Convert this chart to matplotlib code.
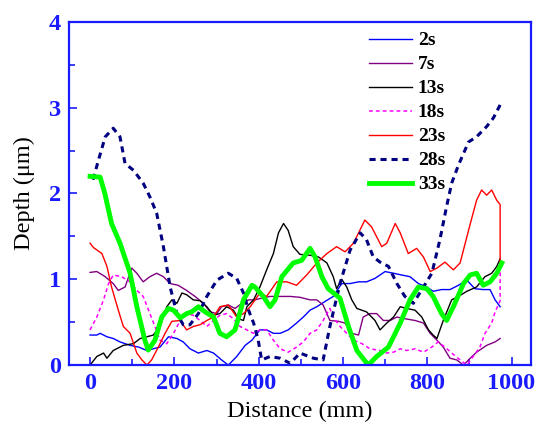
import matplotlib
matplotlib.use('Agg')
import matplotlib.pyplot as plt

# depth profiles (um) along the track (mm) for each exposure time
x_2s = [0, 16, 24, 40, 55, 71, 95, 115, 135, 150, 166, 186, 206, 221, 237, 257, 277, 293, 312, 328,
        348, 368, 384, 403, 419, 435, 451, 470, 490, 506, 522, 538, 557, 577, 597, 617, 637, 656, 676,
        700, 720, 739, 759, 779, 799, 814, 834, 854, 874, 894, 913, 933, 949, 961, 973]
y_2s = [0.35, 0.35, 0.37, 0.33, 0.31, 0.27, 0.23, 0.21, 0.17, 0.19, 0.21, 0.33, 0.31, 0.27, 0.19, 0.14,
        0.17, 0.14, 0.06, 0.0, 0.10, 0.23, 0.29, 0.41, 0.41, 0.37, 0.37, 0.41, 0.49, 0.56, 0.64, 0.68,
        0.74, 0.80, 0.95, 0.95, 0.97, 0.97, 1.01, 1.09, 1.07, 1.05, 1.03, 0.95, 0.91, 0.86, 0.88, 0.88,
        0.93, 0.99, 0.89, 0.88, 0.88, 0.76, 0.68]

x_7s = [0, 16, 36, 55, 67, 83, 99, 111, 126, 142, 158, 174, 190, 209, 229, 249, 269, 285, 301, 312,
        328, 344, 360, 376, 391, 407, 427, 451, 475, 498, 522, 538, 553, 569, 589, 605, 621, 637, 648,
        664, 680, 696, 712, 728, 747, 771, 791, 807, 823, 838, 854, 870, 886, 902, 917, 941, 961, 973]
y_7s = [1.08, 1.09, 1.03, 0.95, 0.87, 0.91, 1.13, 1.07, 0.97, 1.03, 1.07, 1.03, 0.95, 0.93, 0.87, 0.80,
        0.72, 0.62, 0.60, 0.68, 0.70, 0.66, 0.72, 0.76, 0.76, 0.78, 0.80, 0.80, 0.80, 0.79, 0.76, 0.76,
        0.70, 0.52, 0.51, 0.49, 0.37, 0.35, 0.56, 0.60, 0.60, 0.52, 0.52, 0.56, 0.54, 0.52, 0.49, 0.37,
        0.29, 0.21, 0.08, 0.06, 0.0, 0.08, 0.15, 0.23, 0.27, 0.31]

x_13s = [0, 16, 32, 40, 55, 79, 103, 119, 135, 150, 166, 182, 194, 206, 218, 229, 245, 261, 277, 293,
         308, 324, 340, 352, 364, 372, 388, 403, 419, 435, 447, 459, 470, 482, 498, 522, 542, 562, 577,
         585, 597, 609, 621, 633, 656, 676, 688, 704, 720, 736, 751, 771, 787, 803, 814, 823, 838, 858,
         874, 894, 917, 937, 953, 965, 973]
y_13s = [0.0, 0.10, 0.14, 0.08, 0.17, 0.23, 0.25, 0.31, 0.33, 0.35, 0.45, 0.68, 0.76, 0.72, 0.84, 0.82,
         0.76, 0.75, 0.68, 0.58, 0.60, 0.68, 0.64, 0.54, 0.52, 0.68, 0.76, 0.91, 1.11, 1.30, 1.54, 1.65,
         1.57, 1.38, 1.29, 1.28, 1.26, 1.19, 1.03, 0.89, 1.0, 0.91, 0.76, 0.66, 0.62, 0.52, 0.41, 0.49,
         0.56, 0.68, 0.66, 0.64, 0.56, 0.41, 0.35, 0.31, 0.52, 0.76, 0.80, 0.86, 0.91, 1.03, 1.07, 1.15,
         1.24]

x_18s = [0, 16, 32, 44, 55, 75, 95, 111, 126, 142, 154, 166, 182, 198, 214, 229, 245, 261, 277, 293,
         308, 324, 340, 356, 372, 388, 403, 419, 435, 451, 470, 490, 506, 522, 538, 553, 569, 577, 593,
         609, 625, 645, 664, 688, 704, 720, 736, 751, 771, 791, 811, 826, 842, 858, 878, 894, 909, 925,
         937, 953, 961, 973, 973]
y_18s = [0.41, 0.56, 0.76, 0.95, 1.05, 1.03, 0.97, 0.87, 0.80, 0.60, 0.45, 0.29, 0.25, 0.37, 0.52, 0.60,
         0.58, 0.52, 0.45, 0.52, 0.58, 0.60, 0.54, 0.45, 0.41, 0.37, 0.41, 0.41, 0.29, 0.19, 0.15, 0.21,
         0.27, 0.37, 0.41, 0.52, 0.66, 0.56, 0.45, 0.37, 0.29, 0.25, 0.19, 0.17, 0.14, 0.15, 0.19, 0.17,
         0.19, 0.15, 0.21, 0.27, 0.21, 0.14, 0.06, 0.0, 0.10, 0.21, 0.37, 0.49, 0.62, 0.75, 1.11]

x_23s = [0, 8, 28, 40, 51, 67, 79, 95, 111, 123, 135, 146, 162, 178, 194, 214, 229, 245, 261, 277,
         293, 308, 328, 348, 364, 380, 403, 419, 443, 467, 490, 514, 538, 562, 585, 605, 625, 652, 668,
         692, 704, 724, 736, 755, 775, 791, 807, 823, 842, 862, 878, 898, 917, 929, 941, 953, 965, 973,
         973]
y_23s = [1.42, 1.37, 1.30, 1.15, 0.91, 0.64, 0.45, 0.37, 0.14, 0.06, 0.0, 0.06, 0.21, 0.37, 0.51, 0.52,
         0.41, 0.45, 0.47, 0.52, 0.56, 0.68, 0.70, 0.56, 0.60, 0.68, 0.84, 0.80, 0.97, 0.97, 0.93, 1.05,
         1.19, 1.30, 1.38, 1.32, 1.42, 1.69, 1.61, 1.38, 1.42, 1.65, 1.54, 1.30, 1.36, 1.26, 1.09, 1.13,
         1.20, 1.11, 1.19, 1.57, 1.92, 2.04, 1.98, 2.04, 1.92, 1.87, 1.13]

x_28s = [7, 20, 36, 55, 71, 83, 103, 126, 142, 158, 174, 190, 206, 221, 237, 257, 277, 301, 328, 348,
         364, 376, 388, 399, 407, 427, 451, 475, 498, 530, 553, 569, 593, 617, 641, 656, 672, 688, 708,
         728, 747, 767, 791, 811, 830, 846, 858, 874, 898, 917, 941, 957, 977]
y_28s = [2.16, 2.39, 2.66, 2.76, 2.66, 2.35, 2.27, 2.12, 1.96, 1.77, 1.38, 0.91, 0.60, 0.47, 0.47, 0.60,
         0.80, 0.99, 1.07, 1.01, 0.84, 0.64, 0.49, 0.29, 0.06, 0.10, 0.08, 0.02, 0.14, 0.08, 0.06, 0.45,
         0.95, 1.34, 1.54, 1.46, 1.26, 1.20, 1.15, 0.95, 0.80, 0.72, 0.91, 1.07, 1.46, 1.85, 2.12, 2.33,
         2.60, 2.66, 2.78, 2.88, 3.07]

x_33s = [0, 24, 35, 51, 71, 95, 111, 130, 138, 154, 170, 186, 198, 214, 229, 241, 257, 273, 293, 308,
         324, 344, 364, 384, 391, 411, 427, 439, 455, 482, 502, 522, 534, 550, 565, 593, 613, 633, 660,
         680, 708, 736, 759, 779, 799, 814, 834, 846, 862, 886, 902, 917, 933, 949, 965, 977]
y_33s = [2.20, 2.19, 2.0, 1.65, 1.42, 1.07, 0.68, 0.29, 0.175, 0.29, 0.56, 0.66, 0.64, 0.55, 0.60, 0.62,
         0.68, 0.62, 0.56, 0.37, 0.33, 0.41, 0.76, 0.93, 0.91, 0.80, 0.68, 0.76, 1.03, 1.19, 1.22, 1.36,
         1.26, 1.03, 0.89, 0.78, 0.45, 0.17, 0.0, 0.10, 0.21, 0.49, 0.76, 0.91, 0.89, 0.80, 0.60, 0.52,
         0.68, 0.95, 1.05, 1.07, 0.93, 0.97, 1.07, 1.19]

blue = '#1a1aff'
serif = ['Liberation Serif', 'DejaVu Serif']

fig = plt.figure(figsize=(5.39, 4.28), dpi=100)
ax = fig.add_axes([0.128, 0.147, 0.857, 0.802])

ax.plot(x_2s, y_2s, color='#0000ff', lw=1.0, label='2s')
ax.plot(x_7s, y_7s, color='#800080', lw=1.0, label='7s')
ax.plot(x_13s, y_13s, color='black', lw=1.0, label='13s')
ax.plot(x_18s, y_18s, color='#ff00ff', lw=1.1, ls=(0, (2.5, 2)), label='18s')
ax.plot(x_23s, y_23s, color='#ff0000', lw=1.0, label='23s')
ax.plot(x_28s, y_28s, color='#000080', lw=2.2, ls=(0, (2, 1.6)), label='28s')
ax.plot(x_33s, y_33s, color='#00ff00', lw=3.5, label='33s')

ax.set_xlim(-50, 1046)
ax.set_ylim(0, 4)
ax.set_xticks([0, 200, 400, 600, 800, 1000])
ax.set_xticks(range(100, 1000, 200), minor=True)
ax.set_yticks([0, 1, 2, 3, 4])
ax.set_yticks([0.5, 1.5, 2.5, 3.5], minor=True)

for s in ax.spines.values():
    s.set_color(blue)
    s.set_linewidth(1.6)
ax.tick_params(which='both', direction='in', color=blue, width=1.2, top=False, right=False)
ax.tick_params(which='major', length=6, pad=6)
ax.tick_params(which='minor', length=4)
for lab in ax.get_xticklabels() + ax.get_yticklabels():
    lab.set_family(serif)
    lab.set_fontweight('bold')
    lab.set_fontsize(17.5)
    lab.set_color(blue)

ax.set_xlabel('Distance (mm)', family=serif, fontsize=17.5, labelpad=5)
ax.set_ylabel('Depth (\u03bcm)', family=serif, fontsize=17.5, labelpad=10)

leg = ax.legend(loc='upper left', bbox_to_anchor=(0.61, 1.025), frameon=False,
                prop={'family': serif, 'weight': 'bold', 'size': 14},
                handlelength=2.2, handletextpad=0.3, labelspacing=0.33, borderpad=0.45)

fig.savefig('out.png', dpi=100)
